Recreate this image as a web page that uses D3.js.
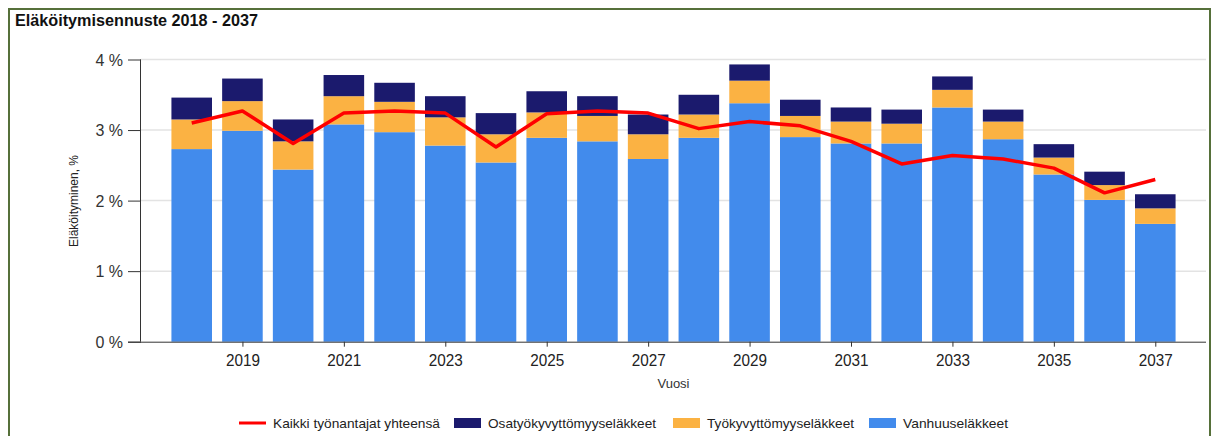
<!DOCTYPE html>
<html lang="fi">
<head>
    <meta charset="UTF-8">
    <title>Eläköitymisennuste 2018 - 2037</title>
    <script src="https://d3js.org/d3.v7.min.js"></script>
    <style>
        body {
            margin: 0;
            background: #fff;
        }
        svg text {
            font-family: Arial, "Liberation Sans", sans-serif;
        }
    </style>
</head>
<body>
<div id="chart"></div>
<script>
    // Data (luettu kuvasta)
    const years = d3.range(2018, 2038);
    const vanhuus = [2.73, 2.99, 2.44, 3.08, 2.97, 2.78, 2.54, 2.89, 2.84, 2.59,
                     2.89, 3.38, 2.90, 2.81, 2.81, 3.32, 2.87, 2.37, 2.01, 1.67];
    const tyokyvyttomyys = [0.42, 0.42, 0.40, 0.40, 0.43, 0.40, 0.40, 0.36, 0.36, 0.35,
                            0.33, 0.32, 0.30, 0.31, 0.28, 0.25, 0.25, 0.24, 0.21, 0.22];
    const osatyokyvyttomyys = [0.31, 0.32, 0.31, 0.30, 0.27, 0.30, 0.30, 0.30, 0.28, 0.28,
                               0.28, 0.23, 0.23, 0.20, 0.20, 0.19, 0.17, 0.19, 0.19, 0.20];
    const kaikki = [3.10, 3.27, 2.81, 3.24, 3.27, 3.24, 2.76, 3.23, 3.27, 3.24,
                    3.02, 3.12, 3.06, 2.84, 2.52, 2.64, 2.59, 2.46, 2.11, 2.30];
    const yTicks = [0, 1, 2, 3, 4];
    const xTicks = [2019, 2021, 2023, 2025, 2027, 2029, 2031, 2033, 2035, 2037];

    const seriesKeys = ["vanhuus", "tyokyvyttomyys", "osatyokyvyttomyys"];
    const colors = {
        vanhuus: "#428bec",
        tyokyvyttomyys: "#fbb243",
        osatyokyvyttomyys: "#1b1a6d"
    };

    const width = 1216;
    const height = 436;
    const plot = {left: 141, right: 1206, top: 59.5, bottom: 341.7};

    const rows = years.map((y, i) => ({
        year: y,
        vanhuus: vanhuus[i],
        tyokyvyttomyys: tyokyvyttomyys[i],
        osatyokyvyttomyys: osatyokyvyttomyys[i]
    }));

    const svg = d3.select("#chart").append("svg")
        .attr("width", width)
        .attr("height", height);

    // kehys
    svg.append("rect")
        .attr("x", 9).attr("y", 9)
        .attr("width", 1201).attr("height", 440)
        .attr("fill", "none")
        .attr("stroke", "#56703a")
        .attr("stroke-width", 2);

    svg.append("text")
        .attr("x", 15).attr("y", 26)
        .attr("font-size", 16)
        .attr("font-weight", "bold")
        .attr("fill", "#111")
        .attr("textLength", 243)
        .attr("lengthAdjust", "spacingAndGlyphs")
        .text("Eläköitymisennuste 2018 - 2037");

    const x = d3.scaleLinear().domain([2017, 2038]).range([plot.left, plot.right]);
    const y = d3.scaleLinear().domain([0, 4]).range([plot.bottom, plot.top]);
    const barW = (x(2019) - x(2018)) * 0.8;

    // gridlines
    svg.append("g")
        .selectAll("line")
        .data(yTicks.filter(d => d > 0))
        .join("line")
        .attr("x1", plot.left).attr("x2", plot.right)
        .attr("y1", d => y(d)).attr("y2", d => y(d))
        .attr("stroke", "#e3e3e3")
        .attr("stroke-width", 1.5);

    // pinotut pylväät
    const stack = d3.stack().keys(seriesKeys)(rows);
    svg.append("g")
        .selectAll("g")
        .data(stack)
        .join("g")
        .attr("fill", d => colors[d.key])
        .selectAll("rect")
        .data(d => d)
        .join("rect")
        .attr("x", d => x(d.data.year) - barW / 2)
        .attr("width", barW)
        .attr("y", d => y(d[1]))
        .attr("height", d => y(d[0]) - y(d[1]));

    // y-akseli
    const yAxis = svg.append("g")
        .attr("transform", `translate(${plot.left},0)`)
        .call(d3.axisLeft(y).tickValues(yTicks).tickFormat(d => d + " %").tickSize(13).tickPadding(5));
    yAxis.select(".domain").attr("stroke", "#333").attr("d", `M-0.5,${plot.top}V${plot.bottom}`);
    yAxis.selectAll(".tick line").attr("stroke", "#333");
    yAxis.selectAll(".tick text")
        .attr("font-size", 16)
        .attr("fill", "#333")
        .attr("dy", "0.36em");

    // x-akseli
    const xAxis = svg.append("g")
        .attr("transform", `translate(0,${plot.bottom})`)
        .call(d3.axisBottom(x).tickValues(xTicks).tickFormat(d3.format("d")).tickSize(5).tickPadding(8));
    xAxis.select(".domain").attr("stroke", "#333").attr("d", `M128,0.5H${plot.right}`);
    xAxis.selectAll(".tick line").attr("stroke", "#333");
    xAxis.selectAll(".tick text")
        .attr("font-size", 16)
        .attr("fill", "#222")
        .attr("textLength", 34)
        .attr("lengthAdjust", "spacingAndGlyphs");

    svg.append("text")
        .attr("x", (plot.left + plot.right) / 2)
        .attr("y", 388)
        .attr("text-anchor", "middle")
        .attr("font-size", 13)
        .attr("fill", "#333")
        .text("Vuosi");

    svg.append("text")
        .attr("transform", "translate(78,201) rotate(-90)")
        .attr("text-anchor", "middle")
        .attr("font-size", 12)
        .attr("fill", "#222")
        .text("Eläköityminen, %");

    // viiva
    const line = d3.line()
        .x((d, i) => x(years[i]))
        .y(d => y(d));
    svg.append("path")
        .datum(kaikki)
        .attr("d", line)
        .attr("fill", "none")
        .attr("stroke", "#ff0000")
        .attr("stroke-width", 3.5)
        .attr("stroke-linejoin", "round");

    // selite
    const legendItems = [
        {label: "Kaikki työnantajat yhteensä", type: "line", color: "#ff0000", x: 239, w: 167},
        {label: "Osatyökyvyttömyyseläkkeet", type: "rect", color: colors.osatyokyvyttomyys, x: 454, w: 168},
        {label: "Työkyvyttömyyseläkkeet", type: "rect", color: colors.tyokyvyttomyys, x: 673, w: 147},
        {label: "Vanhuuseläkkeet", type: "rect", color: colors.vanhuus, x: 869, w: 105}
    ];
    const legend = svg.append("g")
        .selectAll("g")
        .data(legendItems)
        .join("g")
        .attr("transform", d => `translate(${d.x},0)`);
    legend.filter(d => d.type === "line").append("line")
        .attr("x1", 0).attr("x2", 27)
        .attr("y1", 423).attr("y2", 423)
        .attr("stroke", d => d.color)
        .attr("stroke-width", 3);
    legend.filter(d => d.type === "rect").append("rect")
        .attr("x", 0).attr("y", 418)
        .attr("width", 27).attr("height", 10)
        .attr("fill", d => d.color);
    legend.append("text")
        .attr("x", 34).attr("y", 428)
        .attr("font-size", 13)
        .attr("fill", "#222")
        .attr("textLength", d => d.w)
        .attr("lengthAdjust", "spacingAndGlyphs")
        .text(d => d.label);
</script>
</body>
</html>
